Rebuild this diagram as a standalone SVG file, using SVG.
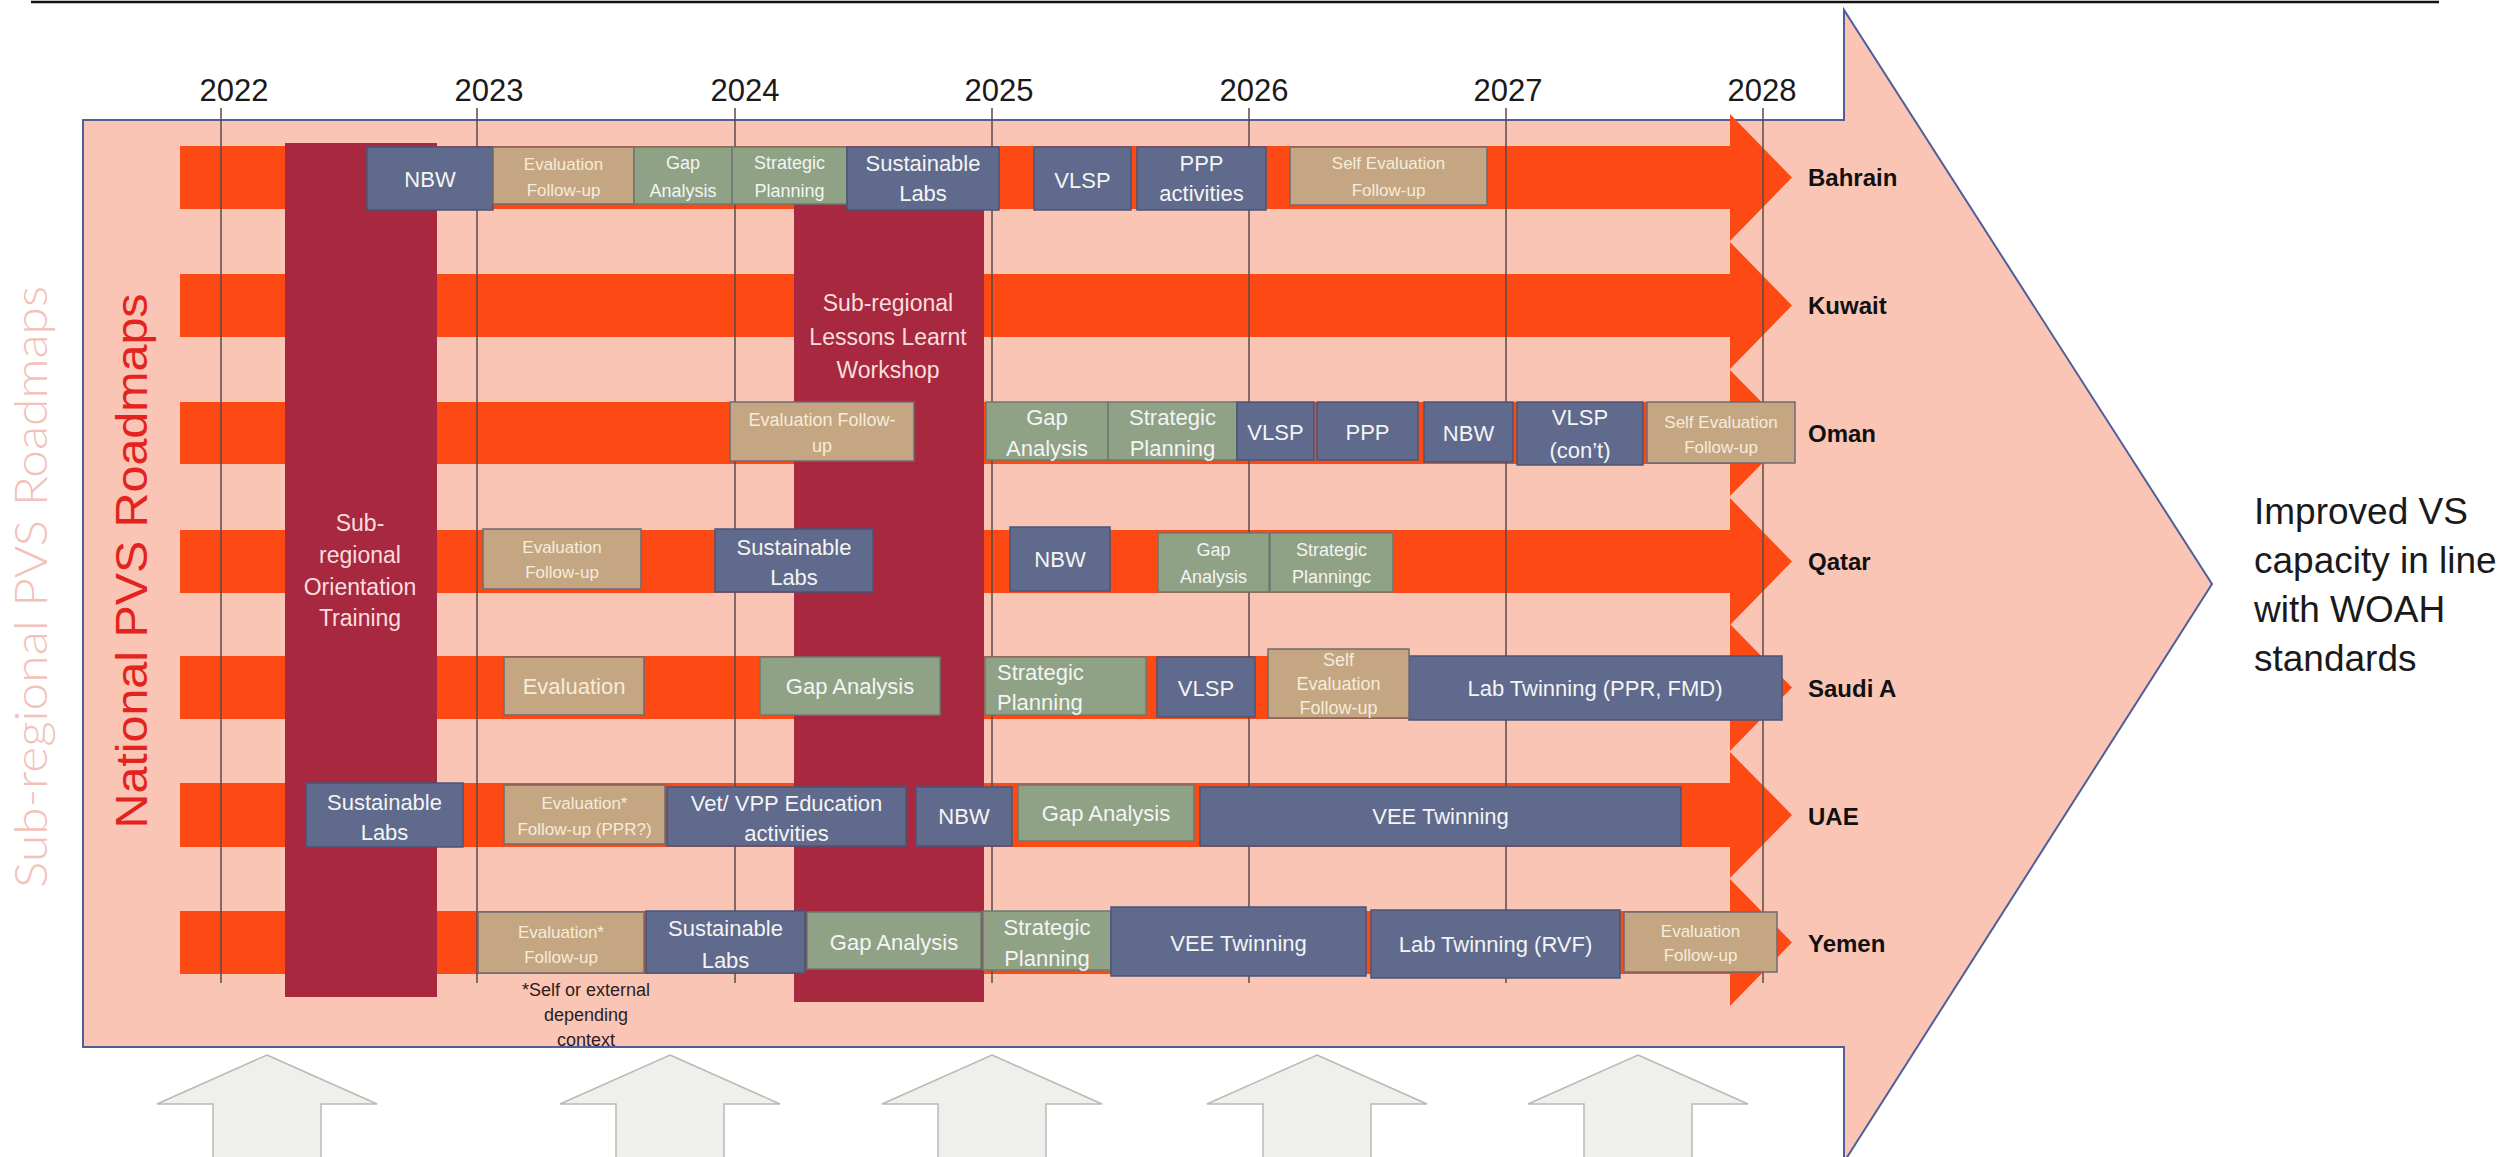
<svg xmlns="http://www.w3.org/2000/svg" width="2509" height="1157" viewBox="0 0 2509 1157">
<style>
text{font-family:"Liberation Sans",Arial,sans-serif}
.bg{fill:#fbc5b5;stroke:#4f5f9a;stroke-width:2}
.grid{stroke:#5a4a4a;stroke-width:1.5}
.yr{font-size:31px;fill:#1a1a1a;text-anchor:middle}
.bar{fill:#fd4a14}
.dred{fill:#a8283f}
.bl{fill:#5f6a8c;stroke:#48557a;stroke-width:1.5}
.tn{fill:#c4a683;stroke:#6f6a72;stroke-width:1.5}
.gr{fill:#8fa285;stroke:#6c7a72;stroke-width:1.5}
.t{fill:#f4f4f4;text-anchor:middle;dominant-baseline:central}
.L{font-size:22px}
.M{font-size:18px}
.S{font-size:17px}
.tt{fill:#f6ecd9;text-anchor:middle;dominant-baseline:central}
.w{fill:#f7dede;font-size:23px;text-anchor:middle;dominant-baseline:central}
.cty{font-size:24px;font-weight:bold;fill:#111;dominant-baseline:central}
.up{fill:#efefeb;stroke:#b9b9b6;stroke-width:1.5}
</style>

<line x1="31" y1="2" x2="2439" y2="2" stroke="#111" stroke-width="2.5"/>

<g id="main-arrow">
<path class="bg" d="M83,120 H1844 V10 L2212,584 L1844,1162 V1047 H83 Z"/>
</g>

<g id="years">
<text class="yr" x="234" y="101">2022</text>
<text class="yr" x="489" y="101">2023</text>
<text class="yr" x="745" y="101">2024</text>
<text class="yr" x="999" y="101">2025</text>
<text class="yr" x="1254" y="101">2026</text>
<text class="yr" x="1508" y="101">2027</text>
<text class="yr" x="1762" y="101">2028</text>
</g>

<g id="row-bars">
<path class="bar" d="M180,146 H1730 V114 L1792,177.5 L1730,241 V209 H180 Z"/>
<path class="bar" d="M180,274 H1730 V242 L1792,305.5 L1730,369 V337 H180 Z"/>
<path class="bar" d="M180,402 H1730 V370 L1792,433 L1730,496 V464 H180 Z"/>
<path class="bar" d="M180,530 H1730 V498 L1792,561.5 L1730,625 V593 H180 Z"/>
<path class="bar" d="M180,656 H1730 V624 L1792,687.5 L1730,751 V719 H180 Z"/>
<path class="bar" d="M180,783 H1730 V752 L1792,815 L1730,878 V847 H180 Z"/>
<path class="bar" d="M180,911 H1730 V879 L1792,942.5 L1730,1006 V974 H180 Z"/>
</g>

<g id="gridlines">
<line class="grid" x1="221" y1="108" x2="221" y2="983"/>
<line class="grid" x1="477" y1="108" x2="477" y2="983"/>
<line class="grid" x1="735" y1="108" x2="735" y2="983"/>
<line class="grid" x1="992" y1="108" x2="992" y2="983"/>
<line class="grid" x1="1249" y1="108" x2="1249" y2="983"/>
<line class="grid" x1="1506" y1="108" x2="1506" y2="983"/>
<line class="grid" x1="1763" y1="108" x2="1763" y2="983"/>
</g>

<g id="orientation-training">
<rect class="dred" x="285" y="143" width="152" height="854"/>
<text class="w"><tspan x="360" y="523">Sub-</tspan><tspan x="360" y="555">regional</tspan><tspan x="360" y="587">Orientation</tspan><tspan x="360" y="618">Training</tspan></text>
</g>

<g id="lessons-learnt">
<rect class="dred" x="794" y="147" width="190" height="855"/>
<text class="w"><tspan x="888" y="303">Sub-regional</tspan><tspan x="888" y="337">Lessons Learnt</tspan><tspan x="888" y="370">Workshop</tspan></text>
</g>

<g id="bahrain">
<rect class="bl" x="367" y="147" width="126" height="63"/>
<text class="t L" x="430" y="179">NBW</text>
<rect class="tn" x="493" y="147" width="141" height="57"/>
<text class="tt S"><tspan x="563.5" y="164">Evaluation</tspan><tspan x="563.5" y="190">Follow-up</tspan></text>
<rect class="gr" x="634" y="147" width="98" height="57"/>
<text class="t M"><tspan x="683" y="163">Gap</tspan><tspan x="683" y="191">Analysis</tspan></text>
<rect class="gr" x="732" y="147" width="115" height="57"/>
<text class="t M"><tspan x="789.5" y="163">Strategic</tspan><tspan x="789.5" y="191">Planning</tspan></text>
<rect class="bl" x="847" y="147" width="152" height="63"/>
<text class="t L"><tspan x="923" y="163">Sustainable</tspan><tspan x="923" y="193">Labs</tspan></text>
<rect class="bl" x="1034" y="147" width="97" height="63"/>
<text class="t L" x="1082.5" y="180">VLSP</text>
<rect class="bl" x="1137" y="147" width="129" height="63"/>
<text class="t L"><tspan x="1201.5" y="163">PPP</tspan><tspan x="1201.5" y="193">activities</tspan></text>
<rect class="tn" x="1290" y="147" width="197" height="58"/>
<text class="tt S"><tspan x="1388.5" y="163">Self Evaluation</tspan><tspan x="1388.5" y="190">Follow-up</tspan></text>
<text class="cty" x="1808" y="177">Bahrain</text>
</g>

<g id="kuwait">
<text class="cty" x="1808" y="305">Kuwait</text>
</g>

<g id="oman">
<rect class="tn" x="730" y="402" width="184" height="59"/>
<text class="tt M"><tspan x="822" y="420">Evaluation Follow-</tspan><tspan x="822" y="446">up</tspan></text>
<rect class="gr" x="986" y="402" width="122" height="58"/>
<text class="t L"><tspan x="1047" y="417">Gap</tspan><tspan x="1047" y="448">Analysis</tspan></text>
<rect class="gr" x="1108" y="402" width="129" height="58"/>
<text class="t L"><tspan x="1172.5" y="417">Strategic</tspan><tspan x="1172.5" y="448">Planning</tspan></text>
<rect class="bl" x="1237" y="402" width="77" height="58"/>
<text class="t L" x="1275.5" y="432">VLSP</text>
<rect class="bl" x="1317" y="402" width="101" height="58"/>
<text class="t L" x="1367.5" y="432">PPP</text>
<rect class="bl" x="1424" y="402" width="89" height="60"/>
<text class="t L" x="1468.5" y="433">NBW</text>
<rect class="bl" x="1517" y="402" width="126" height="63"/>
<text class="t L"><tspan x="1580" y="417">VLSP</tspan><tspan x="1580" y="450">(con’t)</tspan></text>
<rect class="tn" x="1647" y="402" width="148" height="61"/>
<text class="tt S"><tspan x="1721" y="422">Self Evaluation</tspan><tspan x="1721" y="447">Follow-up</tspan></text>
<text class="cty" x="1808" y="433">Oman</text>
</g>

<g id="qatar">
<rect class="tn" x="483" y="529" width="158" height="60"/>
<text class="tt S"><tspan x="562" y="547">Evaluation</tspan><tspan x="562" y="572">Follow-up</tspan></text>
<rect class="bl" x="715" y="529" width="158" height="63"/>
<text class="t L"><tspan x="794" y="547">Sustainable</tspan><tspan x="794" y="577">Labs</tspan></text>
<rect class="bl" x="1010" y="527" width="100" height="64"/>
<text class="t L" x="1060" y="559">NBW</text>
<rect class="gr" x="1158" y="533" width="111" height="59"/>
<text class="t M"><tspan x="1213.5" y="550">Gap</tspan><tspan x="1213.5" y="577">Analysis</tspan></text>
<rect class="gr" x="1270" y="533" width="123" height="59"/>
<text class="t M"><tspan x="1331.5" y="550">Strategic</tspan><tspan x="1331.5" y="577">Planningc</tspan></text>
<text class="cty" x="1808" y="561">Qatar</text>
</g>

<g id="saudi-a">
<rect class="tn" x="504" y="657" width="140" height="58"/>
<text class="tt L" x="574" y="686">Evaluation</text>
<rect class="gr" x="760" y="657" width="180" height="58"/>
<text class="t L" x="850" y="686">Gap Analysis</text>
<rect class="gr" x="985" y="657" width="161" height="58"/>
<text class="t L" style="text-anchor:start"><tspan x="997" y="672">Strategic</tspan><tspan x="997" y="702">Planning</tspan></text>
<rect class="bl" x="1157" y="657" width="98" height="60"/>
<text class="t L" x="1206" y="688">VLSP</text>
<rect class="bl" x="1409" y="656" width="373" height="64"/>
<text class="t L" x="1595" y="688">Lab Twinning (PPR, FMD)</text>
<rect class="tn" x="1268" y="649" width="141" height="69"/>
<text class="tt M"><tspan x="1338.5" y="660">Self</tspan><tspan x="1338.5" y="684">Evaluation</tspan><tspan x="1338.5" y="708">Follow-up</tspan></text>
<text class="cty" x="1808" y="688">Saudi A</text>
</g>

<g id="uae">
<rect class="bl" x="306" y="783" width="157" height="64"/>
<text class="t L"><tspan x="384.5" y="802">Sustainable</tspan><tspan x="384.5" y="832">Labs</tspan></text>
<rect class="tn" x="504" y="785" width="161" height="59"/>
<text class="tt S"><tspan x="584.5" y="803">Evaluation*</tspan><tspan x="584.5" y="829">Follow-up (PPR?)</tspan></text>
<rect class="bl" x="667" y="787" width="239" height="59"/>
<text class="t L"><tspan x="786.5" y="803">Vet/ VPP Education</tspan><tspan x="786.5" y="833">activities</tspan></text>
<rect class="bl" x="916" y="787" width="96" height="59"/>
<text class="t L" x="964" y="816">NBW</text>
<rect class="gr" x="1018" y="785" width="176" height="56"/>
<text class="t L" x="1106" y="813">Gap Analysis</text>
<rect class="bl" x="1200" y="787" width="481" height="59"/>
<text class="t L" x="1440.5" y="816">VEE Twinning</text>
<text class="cty" x="1808" y="816">UAE</text>
</g>

<g id="yemen">
<rect class="tn" x="478" y="912" width="166" height="61"/>
<text class="tt S"><tspan x="561" y="932">Evaluation*</tspan><tspan x="561" y="957">Follow-up</tspan></text>
<rect class="bl" x="646" y="911" width="159" height="62"/>
<text class="t L"><tspan x="725.5" y="928">Sustainable</tspan><tspan x="725.5" y="960">Labs</tspan></text>
<rect class="gr" x="807" y="912" width="174" height="57"/>
<text class="t L" x="894" y="942">Gap Analysis</text>
<rect class="gr" x="983" y="911" width="128" height="59"/>
<text class="t L"><tspan x="1047" y="927">Strategic</tspan><tspan x="1047" y="958">Planning</tspan></text>
<rect class="bl" x="1111" y="907" width="255" height="69"/>
<text class="t L" x="1238.5" y="943">VEE Twinning</text>
<rect class="bl" x="1371" y="910" width="249" height="68"/>
<text class="t L" x="1495.5" y="944">Lab Twinning (RVF)</text>
<rect class="tn" x="1624" y="912" width="153" height="60"/>
<text class="tt S"><tspan x="1700.5" y="931">Evaluation</tspan><tspan x="1700.5" y="955">Follow-up</tspan></text>
<text class="cty" x="1808" y="943">Yemen</text>
</g>

<g id="footnote">
<text style="font-size:18px;fill:#2b1d1d;text-anchor:middle;dominant-baseline:central"><tspan x="586" y="990">*Self or external</tspan><tspan x="586" y="1015">depending</tspan><tspan x="586" y="1040">context</tspan></text>
</g>

<g id="side-labels">
<text transform="translate(47,587) rotate(-90)" style="font-family:Lato,'Liberation Sans',sans-serif;font-weight:300;font-size:46px;fill:#f2c2b9;text-anchor:middle" textLength="602" lengthAdjust="spacingAndGlyphs">Sub-regional PVS Roadmaps</text>
<text transform="translate(147,561) rotate(-90)" style="font-size:45px;fill:#e3231d;text-anchor:middle" textLength="535" lengthAdjust="spacingAndGlyphs">National PVS Roadmaps</text>
</g>

<g id="outcome">
<text style="font-size:37px;fill:#1a1a1a;dominant-baseline:central"><tspan x="2254" y="511">Improved VS</tspan><tspan x="2254" y="560">capacity in line</tspan><tspan x="2254" y="609">with WOAH</tspan><tspan x="2254" y="658">standards</tspan></text>
</g>

<g id="input-arrows">
<path class="up" d="M267,1055 L377,1104 H321 V1162 H213 V1104 H157 Z"/>
<path class="up" d="M670,1055 L780,1104 H724 V1162 H616 V1104 H560 Z"/>
<path class="up" d="M992,1055 L1102,1104 H1046 V1162 H938 V1104 H882 Z"/>
<path class="up" d="M1317,1055 L1427,1104 H1371 V1162 H1263 V1104 H1207 Z"/>
<path class="up" d="M1638,1055 L1748,1104 H1692 V1162 H1584 V1104 H1528 Z"/>
</g>
</svg>
